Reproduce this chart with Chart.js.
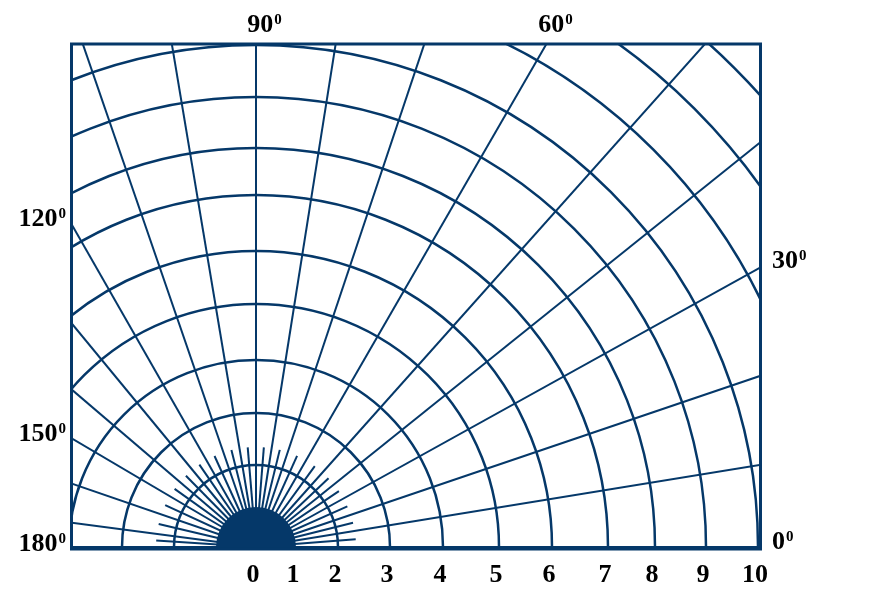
<!DOCTYPE html>
<html>
<head>
<meta charset="utf-8">
<script src="https://cdn.jsdelivr.net/npm/chart.js@4.4.0/dist/chart.umd.min.js"></script>
<style>
  html, body { margin: 0; padding: 0; background: #fff; }
  body { width: 885px; height: 596px; overflow: hidden; position: relative; }
  /* canvas is twice the outer radius, pole sits at page (256, 547) */
  #polar { position: absolute; left: -464px; top: -173px; }
</style>
</head>
<body>
<canvas id="polar" width="1440" height="1440"></canvas>
<script>
// values (1 unit = 50 px on the r scale)
const discRadius = 0.8;
const ringValues = [1.64, 2.68, 3.74, 4.86, 5.92, 7.04, 7.98, 9.0, 10.04, 11.24, 12.4, 13.54];
const tickLabels = ['0', '1', '2', '3', '4', '5', '6', '7', '8', '9', '10'];
const tickValues = [0, 0.8, 1.64, 2.68, 3.74, 4.86, 5.92, 7.04, 7.98, 9.0, 10.04];

// spokes, degrees counter-clockwise from the right
const spokeAngles = [0, 9.3, 18.8, 29.1, 38.8, 48.2, 60, 71.5, 81, 90, 99.4, 109.1, 119.8, 129.4, 139.4, 149.5, 161.1, 172.4, 180];
const innerSpokeAngles = [4.6, 14, 24, 34, 43.5, 54, 65.7, 76.2, 85.5, 94.7, 104.2, 114.4, 124.6, 134.4, 144.4, 155.3, 166.7, 176.2];
const innerSpokeLength = 2.0;

// degree labels and the spoke each one sits next to
const angleLabels = ['0', '30', '60', '90', '120', '150', '180'];
const angleLabelSpokes = [0, 29.1, 60, 90, 119.8, 149.5, 180];

const navy = '#053869';
const STEP = 0.25;
const slotCount = 360 / STEP;
const slotOf = deg => Math.round((((90 - deg) % 360) + 360) % 360 / STEP);
const spokeSlots = new Set(spokeAngles.map(slotOf));

// frame box in px, relative to the pole
const frame = { left: -186, top: -504, right: 505, bottom: 1 };

function edgeHit(deg) {
    const a = deg * Math.PI / 180;
    const dx = Math.cos(a), dy = -Math.sin(a);
    let t = Infinity, side = 'top';
    if (dx > 1e-6 && frame.right / dx < t) { t = frame.right / dx; side = 'right'; }
    if (dx < -1e-6 && frame.left / dx < t) { t = frame.left / dx; side = 'left'; }
    if (dy < -1e-6 && frame.top / dy < t) { t = frame.top / dy; side = 'top'; }
    return { x: dx * t, y: dy * t, side: side };
}

const numFont = 'bold 26px "Liberation Serif"';
const supFont = 'bold 15px "Liberation Serif"';

function drawDegree(ctx, text, x, y, align) {
    ctx.font = numFont;
    const w1 = ctx.measureText(text).width;
    ctx.font = supFont;
    const w2 = ctx.measureText('0').width;
    let left = x;
    if (align === 'center') left = x - (w1 + w2) / 2;
    if (align === 'right') left = x - (w1 + w2);
    ctx.textAlign = 'left';
    ctx.textBaseline = 'alphabetic';
    ctx.font = numFont;
    ctx.fillText(text, left, y);
    ctx.font = supFont;
    ctx.fillText('0', left + w1 + 1, y - 8);
}

const polarFrame = {
    id: 'polarFrame',
    beforeDraw(chart) {
        const s = chart.scales.r;
        const ctx = chart.ctx;
        ctx.save();
        ctx.beginPath();
        ctx.rect(s.xCenter + frame.left, s.yCenter + frame.top, frame.right - frame.left, frame.bottom - frame.top);
        ctx.clip();
    },
    afterDraw(chart) {
        const s = chart.scales.r;
        const ctx = chart.ctx;
        const cx = s.xCenter, cy = s.yCenter;

        // short spokes round the pole
        ctx.strokeStyle = navy;
        ctx.lineWidth = 2;
        const len = s.getDistanceFromCenterForValue(innerSpokeLength);
        innerSpokeAngles.forEach(deg => {
            const p = s.getPointPosition(slotOf(deg), len);
            ctx.beginPath();
            ctx.moveTo(cx, cy);
            ctx.lineTo(p.x, p.y);
            ctx.stroke();
        });

        // filled disc at the pole
        ctx.fillStyle = navy;
        ctx.beginPath();
        ctx.arc(cx, cy, s.getDistanceFromCenterForValue(discRadius), 0, Math.PI * 2);
        ctx.fill();
        ctx.restore();

        // frame
        ctx.save();
        ctx.strokeStyle = navy;
        ctx.lineWidth = 3;
        ctx.strokeRect(cx + frame.left + 1.5, cy + frame.top + 1, frame.right - frame.left - 2, frame.bottom - frame.top);

        // radius labels under the frame
        ctx.fillStyle = '#000';
        ctx.font = numFont;
        ctx.textAlign = 'center';
        ctx.textBaseline = 'alphabetic';
        tickLabels.forEach((t, i) => {
            ctx.fillText(t, cx + s.getDistanceFromCenterForValue(tickValues[i]) - 3, cy + 35);
        });

        // degree labels round the frame
        angleLabels.forEach((t, i) => {
            const h = edgeHit(angleLabelSpokes[i]);
            if (h.side === 'top') drawDegree(ctx, t, cx + h.x + 8, cy + frame.top - 11, 'center');
            else if (h.side === 'right') drawDegree(ctx, t, cx + frame.right + 11, cy + h.y + 2, 'left');
            else drawDegree(ctx, t, cx + frame.left - 5, cy + h.y + 4, 'right');
        });
        ctx.restore();
    }
};

Chart.defaults.font.family = '"Liberation Serif"';

new Chart(document.getElementById('polar'), {
    type: 'radar',
    data: {
        labels: new Array(slotCount).fill(''),
        datasets: []
    },
    options: {
        responsive: false,
        devicePixelRatio: 1,
        animation: false,
        layout: { padding: 0 },
        plugins: { legend: { display: false }, tooltip: { enabled: false } },
        scales: {
            r: {
                min: 0,
                max: 14.4,
                startAngle: 0,
                afterBuildTicks: scale => {
                    scale.ticks = [0].concat(ringValues).map(v => ({ value: v }));
                },
                ticks: { display: false },
                pointLabels: { display: false },
                grid: { circular: true, color: navy, lineWidth: 2.5 },
                angleLines: {
                    display: true,
                    color: navy,
                    lineWidth: ctx => spokeSlots.has(ctx.index) ? 2 : 0
                }
            }
        }
    },
    plugins: [polarFrame]
});
</script>
</body>
</html>
